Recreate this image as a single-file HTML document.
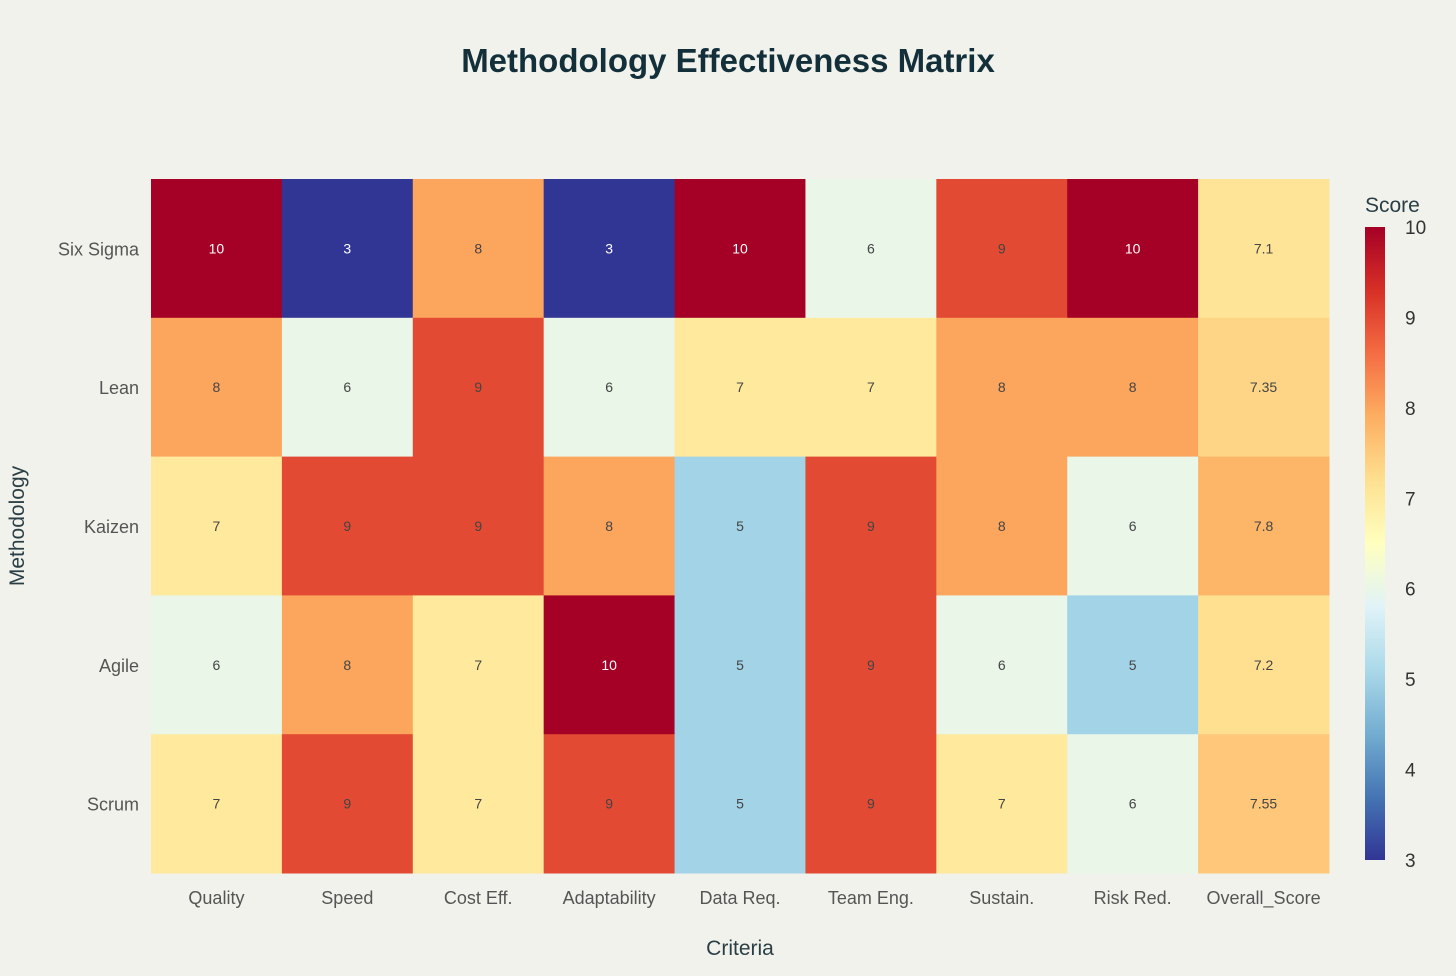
<!DOCTYPE html>
<html><head><meta charset="utf-8"><style>
body{margin:0;background:#f2f2ed;font-family:"Liberation Sans",sans-serif;}
svg text{font-family:"Liberation Sans",sans-serif;}
</style></head><body>
<svg id="c" width="1456" height="971">
<rect width="1456" height="971" fill="#f2f2ed"/>
<text x="728" y="72" text-anchor="middle" font-size="33" font-weight="bold" fill="#13303a">Methodology Effectiveness Matrix</text>
<text x="740" y="955" text-anchor="middle" font-size="21" fill="#2a3f45">Criteria</text>
<text transform="translate(24,526) rotate(-90)" text-anchor="middle" font-size="21" fill="#2a3f45">Methodology</text>
<g id="cells"></g>
<defs><linearGradient id="cg" x1="0" y1="1" x2="0" y2="0"></linearGradient></defs>
<text x="1365" y="212" font-size="21" fill="#2a3f45">Score</text>
<rect x="1365" y="227" width="20" height="633" fill="url(#cg)"/>
<g id="cbt"></g>
</svg>
<script>
const categories=["Quality","Speed","Cost Eff.","Adaptability","Data Req.","Team Eng.","Sustain.","Risk Red.","Overall_Score"];
const methods=["Six Sigma","Lean","Kaizen","Agile","Scrum"];
const sixSigma=[10,3,8,3,10,6,9,10,7.1];
const lean=[8,6,9,6,7,7,8,8,7.35];
const kaizen=[7,9,9,8,5,9,8,6,7.8];
const agile=[6,8,7,10,5,9,6,5,7.2];
const scrum=[7,9,7,9,5,9,7,6,7.55];
const colorTicks=[3,4,5,6,7,8,9,10];
const rows=[sixSigma,lean,kaizen,agile,scrum];
const zmin=3,zmax=10;
const scale=[[165,0,38],[215,48,39],[244,109,67],[253,174,97],[254,224,144],[255,255,191],[224,243,248],[171,217,233],[116,173,209],[69,117,180],[49,54,149]];
function col(v){let t=1-(v-zmin)/(zmax-zmin);t=Math.max(0,Math.min(1,t));let p=t*10,i=Math.min(9,Math.floor(p)),f=p-i;
const a=scale[i],b=scale[i+1];return `rgb(${a.map((x,k)=>Math.round(x+(b[k]-x)*f)).join(',')})`;}
const NS="http://www.w3.org/2000/svg";
const X0=151,X1=1329,Y0=179,Y1=873;
const cw=(X1-X0)/categories.length,ch=(Y1-Y0)/methods.length;
const xs=i=>X0+i*cw, ys=j=>Y0+j*ch;
const g=document.getElementById('cells');
function mk(tag,attrs,txt){const e=document.createElementNS(NS,tag);for(const k in attrs)e.setAttribute(k,attrs[k]);if(txt!==undefined)e.textContent=txt;return e;}
rows.forEach((r,j)=>{r.forEach((v,i)=>{
 const rc=mk('rect',{x:xs(i),y:ys(j),width:cw+0.5,height:ch+0.5,fill:col(v)});
 
 
 g.appendChild(rc);
 const dark=(v>=9.7||v<=3.6);
 const t=mk('text',{x:xs(i)+cw/2,y:ys(j)+ch/2+5,'text-anchor':'middle','font-size':14,fill:dark?'#fff':'#444'},String(v));
 
 
 g.appendChild(t);
});});
categories.forEach((c,i)=>{const t=mk('text',{x:xs(i)+cw/2,y:904,'text-anchor':'middle','font-size':18,fill:'#555'},c);
 
 
 g.appendChild(t);});
methods.forEach((m,j)=>{const t=mk('text',{x:139,y:ys(j)+ch/2+7,'text-anchor':'end','font-size':18,fill:'#555'},m);
 
 
 g.appendChild(t);});
const cg=document.getElementById('cg');
for(let k=10;k>=0;k--){cg.appendChild(mk('stop',{offset:(1-k/10),'stop-color':`rgb(${scale[k].join(',')})`}));}
const cbt=document.getElementById('cbt');
colorTicks.forEach(v=>{const y=860-(v-zmin)/(zmax-zmin)*633;
 const t=mk('text',{x:1405,y:y+7,'font-size':19,fill:'#333'},String(v));
 
 
 cbt.appendChild(t);});
</script>
</body></html>
